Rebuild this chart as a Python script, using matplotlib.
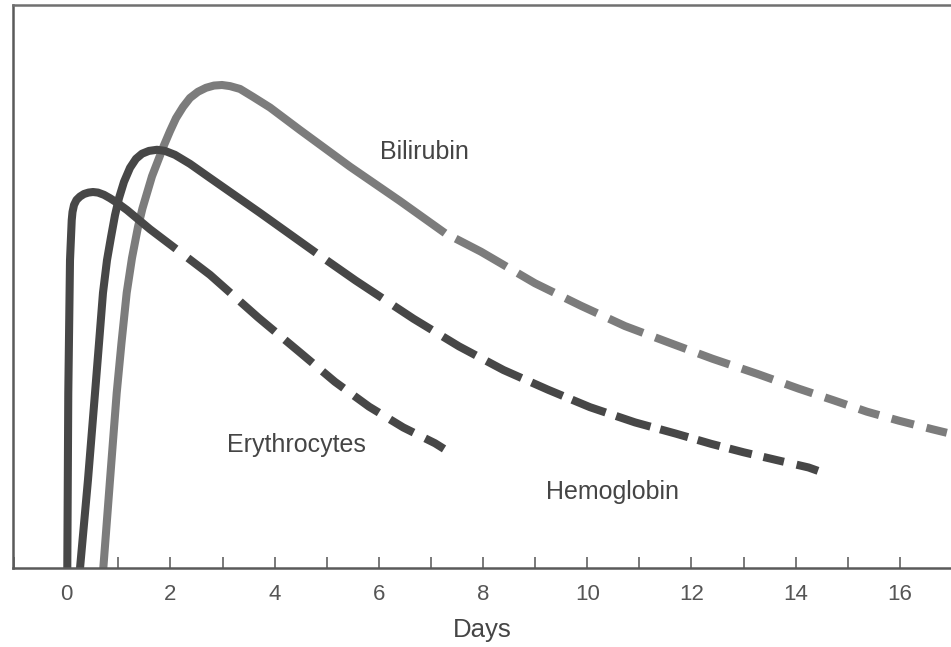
import matplotlib
matplotlib.use("Agg")
import matplotlib.pyplot as plt
from matplotlib.ticker import MultipleLocator

# ---------------- data (days, relative level) ----------------
xticks = [0, 2, 4, 6, 8, 10, 12, 14, 16]
xtick_labels = ["0", "2", "4", "6", "8", "10", "12", "14", "16"]

ery_solid_days = [0.021, 0.040, 0.073, 0.106, 0.121, 0.150, 0.198, 0.265, 0.342, 0.428,
                  0.514, 0.610, 0.726, 0.841, 0.975, 1.167, 1.608, 2.107]
ery_solid_level = [0.0, 31.1, 54.7, 61.8, 63.25, 64.5, 65.4, 66.0, 66.45, 66.7,
                   66.8, 66.7, 66.3, 65.7, 64.9, 63.6, 60.2, 56.7]
ery_dash_days = [2.107, 2.760, 3.687, 4.503, 5.159, 5.812, 6.470, 7.079, 7.252]
ery_dash_level = [56.7, 52.1, 44.5, 38.2, 33.1, 28.7, 25.0, 22.2, 21.2]

hem_solid_days = [0.265, 0.418, 0.553, 0.630, 0.706, 0.783, 0.860, 0.937, 1.013, 1.109,
                  1.225, 1.340, 1.455, 1.589, 1.743, 1.896, 2.088, 2.376, 2.760, 3.720,
                  4.795]
hem_solid_level = [0.0, 15.7, 31.1, 40.0, 48.9, 54.7, 58.8, 62.7, 65.7, 68.6,
                   71.1, 72.7, 73.6, 74.1, 74.3, 74.1, 73.4, 71.8, 69.3, 63.1,
                   56.0]
hem_dash_days = [4.795, 5.553, 6.666, 7.539, 8.393, 9.248, 10.054, 10.918, 11.705,
                 12.376, 13.000, 13.643, 14.248, 14.430]
hem_dash_level = [56.0, 51.1, 44.3, 39.4, 35.2, 31.7, 28.6, 25.9, 23.9,
                  22.1, 20.6, 19.2, 17.9, 17.3]

bil_solid_days = [0.712, 0.841, 0.969, 1.061, 1.161, 1.263, 1.378, 1.464, 1.647, 1.877,
                  1.992, 2.107, 2.242, 2.376, 2.530, 2.683, 2.837, 2.990, 3.144, 3.336,
                  3.585, 3.912, 4.488, 5.447, 6.407, 7.271]
bil_solid_level = [0.0, 15.7, 31.1, 40.0, 48.9, 55.1, 60.6, 63.9, 69.6, 75.1,
                   77.6, 79.9, 81.9, 83.5, 84.6, 85.3, 85.7, 85.8, 85.6, 85.1,
                   83.7, 81.8, 77.8, 71.3, 65.2, 59.5]
bil_dash_days = [7.271, 7.962, 8.998, 9.881, 10.726, 11.589, 12.405, 13.269, 14.056,
                 14.737, 15.370, 15.984, 16.618, 17.060]
bil_dash_level = [59.5, 56.2, 50.6, 46.6, 43.0, 40.0, 37.2, 34.5, 31.9,
                  29.8, 27.8, 26.2, 24.7, 23.7]

labels = ["Bilirubin", "Erythrocytes", "Hemoglobin"]

# ---------------- style ----------------
plt.rcParams["font.family"] = ["Liberation Sans", "DejaVu Sans"]
plt.rcParams["lines.scale_dashes"] = False

PX = 72.0 / 100.0  # pixels -> points at dpi 100


def dash_style(seq_px):
    return (0, [v * PX for v in seq_px])


DARK = "#474747"
LIGHT = "#7c7c7c"
LW = 5.8

fig = plt.figure(figsize=(9.51, 6.47), dpi=100)
W, H = 951.0, 647.0
left_px, right_px, top_px, bottom_px = 12.7, 951.0, 5.0, 568.3
ax = fig.add_axes([left_px / W, (H - bottom_px) / H,
                   (right_px - left_px) / W, (bottom_px - top_px) / H])

# Bilirubin
ax.plot(bil_solid_days, bil_solid_level, color=LIGHT, lw=LW,
        solid_joinstyle="round", solid_capstyle="butt")
ax.plot(bil_dash_days, bil_dash_level, color=LIGHT, lw=LW,
        dash_capstyle="butt", dash_joinstyle="round",
        linestyle=dash_style([0.01, 12, 58, 13, 41, 13, 35, 13, 37, 13, 33, 13, 33, 13,
                              33, 13, 29, 13, 23, 13, 21, 13, 23, 13, 21, 11, 40, 40]))

# Hemoglobin
ax.plot(hem_solid_days, hem_solid_level, color=DARK, lw=LW,
        solid_joinstyle="round", solid_capstyle="butt")
ax.plot(hem_dash_days, hem_dash_level, color=DARK, lw=LW,
        dash_capstyle="butt", dash_joinstyle="round",
        linestyle=dash_style([0.01, 13, 67, 14, 45, 13, 38, 12, 39, 11, 34, 10, 36, 11,
                              36, 10, 29, 10, 23, 10, 23, 12, 21, 13, 24, 60]))

# Erythrocytes
ax.plot(ery_solid_days, ery_solid_level, color=DARK, lw=LW,
        solid_joinstyle="round", solid_capstyle="butt")
ax.plot(ery_dash_days, ery_dash_level, color=DARK, lw=LW,
        dash_capstyle="butt", dash_joinstyle="round",
        linestyle=dash_style([0.01, 15, 55, 13, 46, 13, 36, 13, 27, 13, 30, 13, 27, 13,
                              23, 60]))

# labels on curves
txt_kw = dict(fontsize=18, color="#454545", ha="center", va="center")
ax.text(6.868, 73.96, labels[0], **txt_kw)
ax.text(4.415, 21.9, labels[1], **txt_kw)
ax.text(10.486, 13.5, labels[2], **txt_kw)

# axes
ax.set_xlim((left_px - 66.2) / 52.1, (right_px - 66.2) / 52.1)
ax.set_ylim(0, 100)
ax.set_xticks(xticks)
ax.set_xticklabels(xtick_labels)
ax.xaxis.set_minor_locator(MultipleLocator(1))
ax.set_yticks([])
ax.tick_params(axis="x", which="both", direction="in", length=8, width=1.1,
               color="#555555")
ax.tick_params(axis="x", which="major", labelsize=16, labelcolor="#555555", pad=11)
ax.set_xlabel("Days", fontsize=18.5, color="#454545", labelpad=10)

for side in ["left", "top", "bottom"]:
    ax.spines[side].set_linewidth(1.8)
    ax.spines[side].set_color("#5a5a5a")
ax.spines["top"].set_color("#707070")
ax.spines["right"].set_visible(False)

fig.savefig("out.png", dpi=100, facecolor="white")
